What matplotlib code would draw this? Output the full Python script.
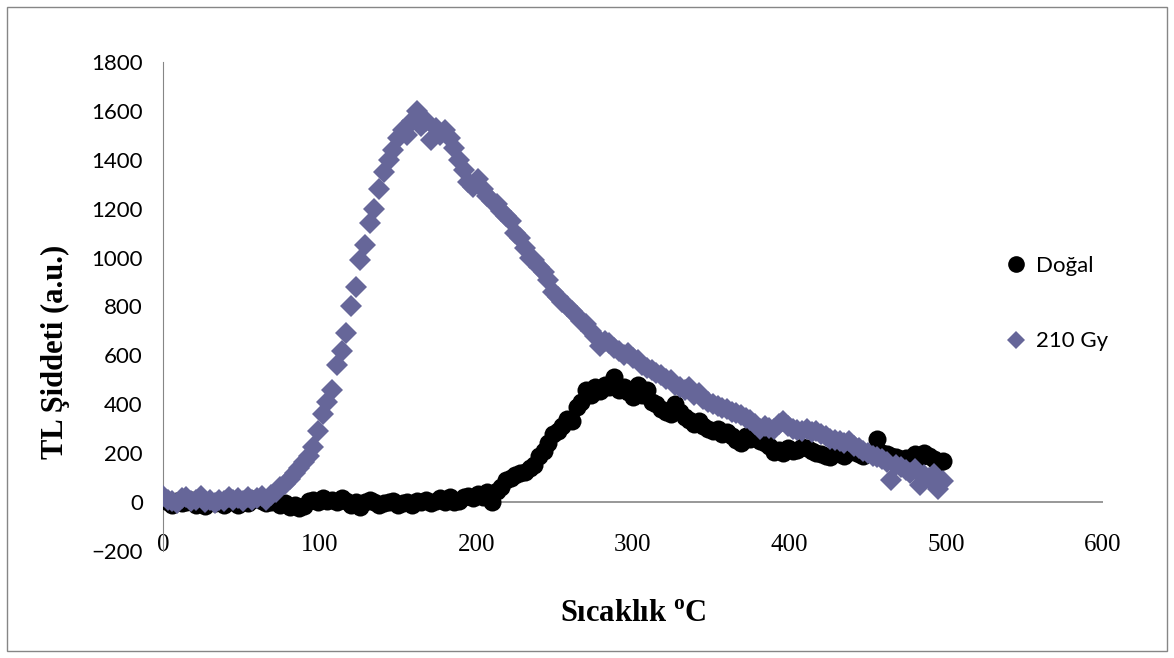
import matplotlib.pyplot as plt
from matplotlib.lines import Line2D
from matplotlib.patches import Rectangle

plt.rcParams['mathtext.fontset'] = 'custom'
plt.rcParams['mathtext.bf'] = 'Liberation Serif:bold'
plt.rcParams['mathtext.rm'] = 'Liberation Serif'

# temperature grid (C), read every ~3 degrees off the picture
temps = [
    0, 3, 6, 9, 12, 15, 18, 21, 24, 27,
    30, 33, 36, 39, 42, 45, 48, 51, 54, 57,
    60, 63, 66, 69, 72, 75, 78, 81, 84, 87,
    90, 93, 96, 99, 102, 105, 108, 111, 114, 117,
    120, 123, 126, 129, 132, 135, 138, 141, 144, 147,
    150, 153, 156, 159, 162, 165, 168, 171, 174, 177,
    180, 183, 186, 189, 192, 195, 198, 201, 204, 207,
    210, 213, 216, 219, 222, 225, 228, 231, 234, 237,
    240, 243, 246, 249, 252, 255, 258, 261, 264, 267,
    270, 273, 276, 279, 282, 285, 288, 291, 294, 297,
    300, 303, 306, 309, 312, 315, 318, 321, 324, 327,
    330, 333, 336, 339, 342, 345, 348, 351, 354, 357,
    360, 363, 366, 369, 372, 375, 378, 381, 384, 387,
    390, 393, 396, 399, 402, 405, 408, 411, 414, 417,
    420, 423, 426, 429, 432, 435, 438, 441, 444, 447,
    450, 453, 456, 459, 462, 465, 468, 471, 474, 477,
    480, 483, 486, 489, 492, 495, 498,
]

dogal = [
    10, 0, -10, 5, -5, 0, 10, -10, 5, -15,
    0, -5, 5, -10, 0, 5, -10, 5, -5, 10,
    15, 5, -5, 0, 10, -10, -5, -20, -10, -25,
    -15, 5, 10, 0, 15, 5, 10, 0, 15, 5,
    -10, 0, -20, 0, 10, 0, -10, -5, 0, 5,
    -10, -5, 0, -10, 5, 0, 10, -5, 5, 15,
    0, 20, 0, 5, 20, 25, 15, 35, 20, 40,
    0, 45, 60, 90, 100, 110, 120, 125, 140, 150,
    190, 210, 240, 280, 290, 310, 340, 330, 390, 410,
    460, 440, 470, 455, 480, 470, 510, 460, 470, 450,
    430, 480, 440, 460, 410, 400, 380, 370, 360, 400,
    370, 350, 335, 320, 330, 310, 300, 290, 300, 280,
    285, 270, 255, 240, 270, 260, 265, 250, 240, 230,
    205, 215, 200, 220, 210, 215, 225, 220, 210, 200,
    195, 190, 185, 200, 195, 190, 210, 205, 195, 190,
    200, 205, 260, 200, 195, 190, 185, 175, 180, 170,
    195, 185, 200, 190, 175, 160, 170,
]

gy210 = [
    25, 10, 5, -5, 15, 20, 5, 10, 25, 0,
    10, -5, 10, 5, 20, 10, 15, 5, 20, 10,
    15, 25, 10, 30, 40, 60, 75, 95, 120, 140,
    165, 190, 225, 290, 360, 410, 460, 560, 620, 690,
    800, 880, 990, 1050, 1140, 1200, 1280, 1350, 1400, 1440,
    1490, 1520, 1500, 1560, 1600, 1540, 1560, 1480, 1530, 1500,
    1520, 1490, 1450, 1400, 1360, 1310, 1290, 1320, 1280, 1250,
    1230, 1220, 1190, 1170, 1150, 1100, 1080, 1040, 1000, 990,
    960, 940, 910, 860, 840, 820, 800, 780, 760, 740,
    730, 700, 680, 640, 660, 650, 630, 620, 600, 610,
    590, 580, 560, 550, 540, 530, 520, 505, 500, 480,
    470, 460, 470, 440, 445, 420, 410, 400, 395, 385,
    380, 370, 365, 355, 345, 335, 320, 300, 310, 305,
    300, 320, 330, 310, 300, 295, 290, 300, 285, 290,
    280, 270, 260, 255, 250, 240, 250, 230, 220, 210,
    200, 190, 185, 175, 165, 90, 150, 145, 130, 120,
    135, 70, 110, 100, 115, 55, 85,
]

purple = '#666699'
grey = '#868686'

fig = plt.figure(figsize=(11.74, 6.58), dpi=100)
ax = fig.add_axes([0.13884, 0.16261, 0.80068, 0.74317])

ax.plot(temps, dogal, 'o', color='black', ms=13, mew=0, zorder=3)
ax.plot(temps, gy210, 'D', color=purple, ms=11, mew=0, zorder=4)

ax.set_xlim(0, 600)
ax.set_ylim(-200, 1800)
ax.set_xticks(range(0, 601, 100))
ax.set_yticks(range(-200, 1801, 200))

for s in ['top', 'right', 'bottom']:
    ax.spines[s].set_visible(False)
ax.spines['left'].set_color(grey)
ax.axhline(0, color=grey, lw=1.2, zorder=1)

ax.tick_params(axis='both', length=0)
ax.tick_params(axis='y', pad=14.5)
ax.tick_params(axis='x', pad=-12)
for lab in ax.get_yticklabels():
    lab.set_fontfamily('Lato')
    lab.set_fontsize(16)
for lab in ax.get_xticklabels():
    lab.set_fontfamily('Liberation Serif')
    lab.set_fontsize(18)

fig.text(633 / 1174, 1 - 614 / 658, r'Sıcaklık $^{\mathbf{o}}$C',
         family='Liberation Serif', weight='bold', fontsize=22,
         ha='center', va='center')
fig.text(55 / 1174, 1 - 352 / 658, 'TL Şiddeti (a.u.)',
         family='Liberation Serif', weight='bold', fontsize=22,
         rotation=90, ha='center', va='center')

handles = [
    Line2D([], [], ls='none', marker='o', color='black', ms=12, mew=0),
    Line2D([], [], ls='none', marker='D', color=purple, ms=9.5, mew=0),
]
fig.legend(handles, ['Doğal', '210 Gy'], loc='upper left',
           bbox_to_anchor=(998 / 1174, 1 - 247 / 658), frameon=False,
           prop={'family': 'Lato', 'size': 16}, handlelength=0.8,
           handletextpad=0.5, labelspacing=2.5, borderaxespad=0)

fig.patches.append(Rectangle((7 / 1174, 7 / 658), 1160 / 1174, 644 / 658,
                             transform=fig.transFigure, fill=False,
                             ec=grey, lw=1))

fig.savefig('out.png', dpi=100)
